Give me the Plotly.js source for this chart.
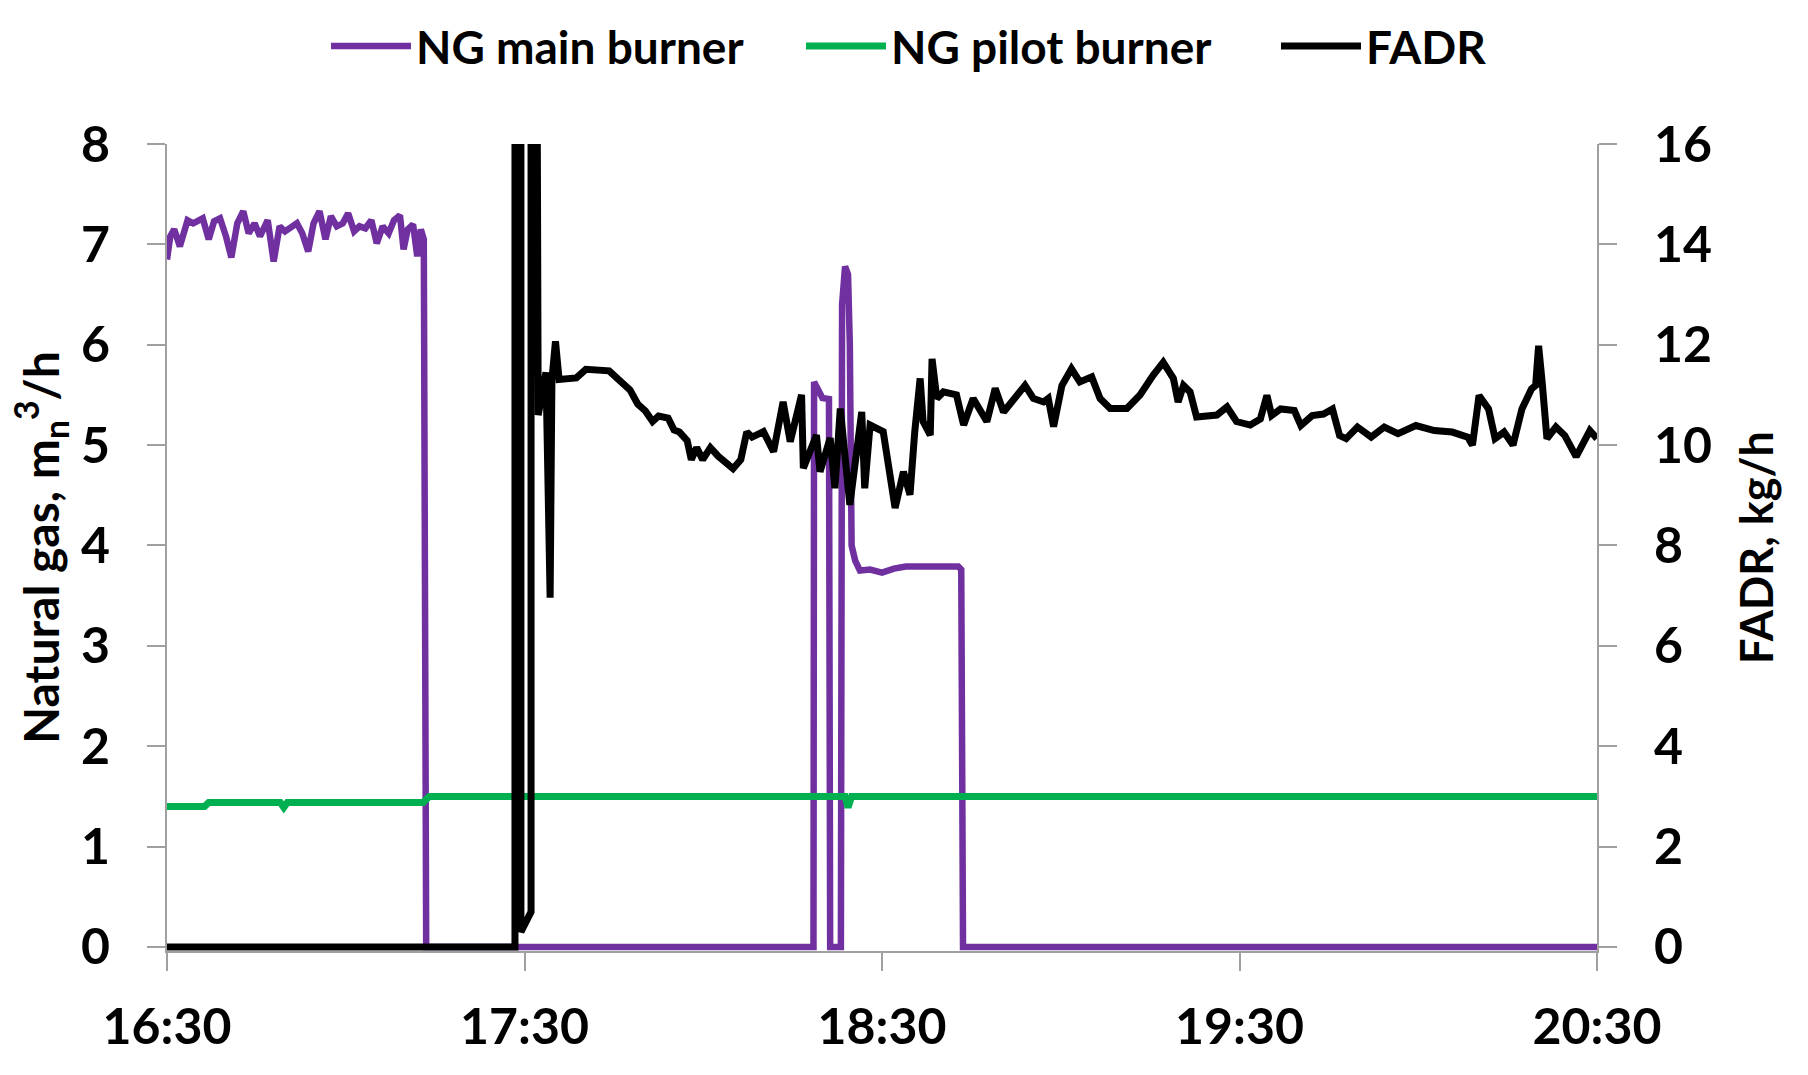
<!DOCTYPE html>
<html>
<head>
<meta charset="utf-8">
<script src="https://cdn.plot.ly/plotly-3.0.1.min.js"></script>
<style>
  body { margin: 0; background: #fff; }
  #chart { width: 1808px; height: 1075px; }
</style>
</head>
<body>
<div id="chart"></div>
<script>
// time axis: minutes elapsed since 16:30
var tickMinutes = [0, 60, 120, 180, 240];
var tickLabels = ['16:30', '17:30', '18:30', '19:30', '20:30'];

// NG main burner, m_n3/h (left axis)
var mainTime = [0, 0.55, 1.2, 2.16, 3.45, 4.4, 6.0, 7.0, 7.9, 8.9,
  9.9, 10.8, 11.8, 12.8, 13.7, 14.7, 15.6, 16.9, 17.9, 18.9,
  19.8, 20.8, 21.8, 22.7, 23.7, 24.6, 25.6, 26.6, 27.5, 28.5,
  29.5, 30.4, 31.4, 32.3, 33.3, 34.3, 35.2, 36.2, 37.2, 38.1,
  39.1, 39.7, 40.4, 41.3, 42.0, 42.6, 43.1, 43.5, 108.5, 108.6,
  109.3, 110.0, 111.1, 111.3, 113.1, 113.3, 113.8, 114.3, 114.6, 114.9,
  115.5, 116.3, 118.0, 120.0, 122.0, 124.0, 130.0, 132.8, 133.3, 133.6,
  240];
var mainGas = [6.85, 7.08, 7.15, 6.98, 7.24, 7.21, 7.26, 7.05, 7.23, 7.26,
  7.08, 6.87, 7.21, 7.33, 7.11, 7.21, 7.08, 7.24, 6.83, 7.18,
  7.13, 7.18, 7.21, 7.11, 6.93, 7.21, 7.33, 7.05, 7.28, 7.18,
  7.21, 7.31, 7.13, 7.18, 7.16, 7.24, 7.01, 7.18, 7.11, 7.24,
  7.29, 6.95, 7.15, 7.2, 6.88, 7.15, 7.05, 0, 0, 5.63,
  5.56, 5.47, 5.46, 0, 0, 6.4, 6.78, 6.7, 6.0, 4.0,
  3.85, 3.75, 3.76, 3.73, 3.77, 3.79, 3.79, 3.79, 3.76, 0,
  0];

// NG pilot burner, m_n3/h (left axis)
var pilotTime = [0, 6.3, 7.0, 19.0, 19.6, 20.2, 43.0, 44.0, 113.8, 114.3, 114.9, 240];
var pilotGas = [1.40, 1.40, 1.44, 1.44, 1.39, 1.44, 1.44, 1.50, 1.50, 1.39, 1.50, 1.50];

// FADR, kg/h (right axis); the two spikes near 17:30 run off the top
var fadrTime = [0, 58.4, 58.4, 59.4, 59.4, 61.1, 61.1, 62.1, 62.3, 62.9,
  63.6, 64.3, 64.6, 65.2, 65.8, 68.7, 70.3, 74.2, 75.8, 77.7,
  79.0, 80.3, 81.5, 82.5, 84.1, 85.1, 86.0, 87.3, 88.0, 88.9,
  89.9, 91.2, 92.5, 93.7, 95.0, 96.3, 97.3, 98.2, 99.5, 100.1,
  101.8, 103.4, 104.6, 106.5, 106.8, 109.0, 109.6, 111.3, 112.1, 113.0,
  114.6, 116.6, 117.1, 118.0, 120.2, 122.2, 123.6, 124.7, 125.5, 126.4,
  126.9, 128.1, 128.4, 129.2, 130.3, 132.5, 133.7, 135.3, 137.6, 139.0,
  140.4, 142.6, 144.0, 145.4, 147.1, 147.9, 148.8, 150.2, 151.8, 153.2,
  155.2, 156.6, 158.3, 161.1, 163.3, 165.5, 167.2, 168.9, 169.7, 170.6,
  171.7, 172.8, 176.2, 177.9, 179.5, 181.8, 183.5, 184.6, 185.4, 186.9,
  189.2, 190.3, 192.2, 194.1, 195.6, 196.8, 197.9, 199.8, 202.1, 204.3,
  206.6, 209.6, 212.7, 215.7, 218.3, 219.1, 220.2, 221.8, 222.9, 224.4,
  225.9, 227.4, 229.0, 229.7, 230.2, 230.8, 231.6, 233.1, 234.6, 236.5,
  237.7, 238.8, 240.0];
var fadr = [0, 0, 18, 18, 0.3, 0.7, 18, 18, 10.6, 11.1,
  11.45, 6.96, 11.3, 12.07, 11.31, 11.34, 11.51, 11.48, 11.31, 11.10,
  10.82, 10.68, 10.47, 10.58, 10.54, 10.30, 10.26, 10.09, 9.71, 9.95,
  9.71, 9.95, 9.78, 9.64, 9.53, 9.71, 10.26, 10.16, 10.26, 10.27,
  9.87, 10.86, 10.07, 11.0, 9.54, 10.2, 9.47, 10.14, 9.14, 10.73,
  8.81, 10.66, 9.14, 10.4, 10.27, 8.75, 9.47, 9.01, 10.27, 11.33,
  10.47, 10.2, 11.72, 10.93, 11.06, 11.0, 10.4, 10.93, 10.47, 11.13,
  10.66, 11.0, 11.19, 10.93, 10.86, 10.93, 10.37, 11.19, 11.52, 11.26,
  11.36, 10.93, 10.73, 10.73, 11.0, 11.39, 11.65, 11.33, 10.86, 11.19,
  11.06, 10.56, 10.6, 10.76, 10.47, 10.4, 10.52, 10.99, 10.59, 10.72,
  10.69, 10.39, 10.59, 10.62, 10.72, 10.19, 10.13, 10.36, 10.16, 10.36,
  10.23, 10.39, 10.29, 10.26, 10.16, 10.0, 10.99, 10.72, 10.13, 10.26,
  10.0, 10.72, 11.12, 11.19, 11.98, 11.25, 10.13, 10.36, 10.19, 9.77,
  10.06, 10.29, 10.13];

var axisGray = '#a0a0a0';

var trace1 = {
  x: mainTime, y: mainGas,
  name: 'NG main burner',
  type: 'scatter', mode: 'lines',
  line: {color: '#7030a0', width: 6.5},
  hoverinfo: 'none'
};

var trace2 = {
  x: pilotTime, y: pilotGas,
  name: 'NG pilot burner',
  type: 'scatter', mode: 'lines',
  line: {color: '#00b050', width: 7},
  hoverinfo: 'none'
};

var trace3 = {
  x: fadrTime, y: fadr,
  name: 'FADR',
  yaxis: 'y2',
  type: 'scatter', mode: 'lines',
  line: {color: '#000000', width: 7},
  hoverinfo: 'none'
};

var data = [trace1, trace2, trace3];

var axisStyle = {
  showgrid: false,
  zeroline: false,
  showline: true,
  linecolor: axisGray,
  linewidth: 2,
  ticks: 'outside',
  ticklen: 18,
  tickwidth: 2,
  tickcolor: axisGray,
  tickfont: {size: 50, weight: 'bold'}
};

var layout = {
  width: 1808,
  height: 1075,
  margin: {l: 167, r: 211, t: 144, b: 124},
  paper_bgcolor: '#ffffff',
  plot_bgcolor: '#ffffff',
  font: {family: 'Lato, sans-serif', size: 46, color: '#000000', weight: 'bold'},
  showlegend: true,
  legend: {
    orientation: 'h',
    xref: 'container', yref: 'container',
    x: 0.1803, xanchor: 'left',
    y: 0.9572, yanchor: 'middle',
    bgcolor: 'rgba(0,0,0,0)',
    font: {size: 46, weight: 'bold'},
    itemwidth: 80,
    entrywidth: 380
  },
  xaxis: Object.assign({}, axisStyle, {
    range: [0, 240],
    tickmode: 'array',
    tickvals: tickMinutes,
    ticktext: tickLabels,
    ticklabelstandoff: 13
  }),
  yaxis: Object.assign({}, axisStyle, {
    range: [-0.04, 8],
    tickmode: 'array',
    tickvals: [0, 1, 2, 3, 4, 5, 6, 7, 8],
    ticklabelstandoff: 27,
    title: {text: 'Natural gas, m<sub>n</sub><sup>3</sup>/h', standoff: 6, font: {size: 48, weight: 'bold'}}
  }),
  yaxis2: Object.assign({}, axisStyle, {
    overlaying: 'y',
    side: 'right',
    range: [-0.08, 16],
    tickmode: 'array',
    tickvals: [0, 2, 4, 6, 8, 10, 12, 14, 16],
    ticklabelstandoff: 27,
    title: {text: 'FADR, kg/h', standoff: 30, font: {size: 45, weight: 'bold'}}
  })
};

Plotly.newPlot('chart', data, layout, {displayModeBar: false, staticPlot: true});
</script>
</body>
</html>
